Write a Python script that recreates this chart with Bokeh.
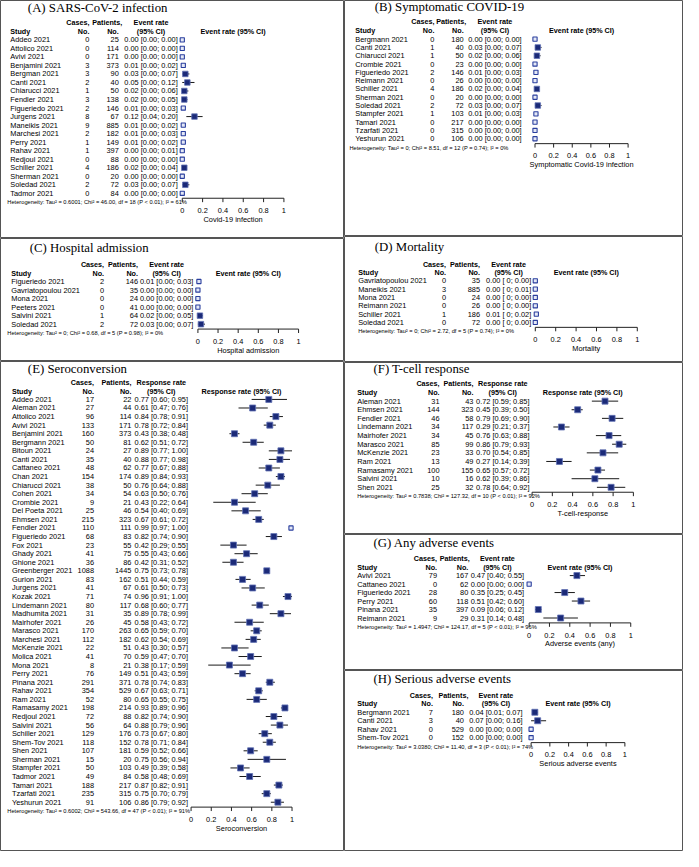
from bokeh.plotting import figure
from bokeh.models import Range1d
from bokeh.layouts import row, column
from bokeh.embed import file_html
from bokeh.resources import INLINE
from bokeh.core.properties import value

# ---------------- data ----------------
A_study = ["Addeo 2021", "Attolico 2021", "Avivi 2021", "Benjamini 2021", "Bergman 2021", "Canti 2021",
           "Chiarucci 2021", "Fendler 2021", "Figueriedo 2021", "Jurgens 2021", "Maneikis 2021",
           "Marchesi 2021", "Perry 2021", "Rahav 2021", "Redjoul 2021", "Schiller 2021",
           "Sherman 2021", "Soledad 2021", "Tadmor 2021"]
A_cases = [0, 0, 0, 3, 3, 2, 1, 3, 2, 8, 9, 2, 1, 1, 0, 4, 0, 2, 0]
A_patients = [25, 114, 171, 373, 90, 40, 50, 138, 146, 67, 885, 182, 149, 397, 88, 186, 20, 72, 84]
A_rate = [0.00, 0.00, 0.00, 0.01, 0.03, 0.05, 0.02, 0.02, 0.01, 0.12, 0.01, 0.01, 0.01, 0.00, 0.00, 0.02, 0.00, 0.03, 0.00]
A_lo = [0.00, 0.00, 0.00, 0.00, 0.00, 0.00, 0.00, 0.00, 0.00, 0.04, 0.00, 0.00, 0.00, 0.00, 0.00, 0.00, 0.00, 0.00, 0.00]
A_hi = [0.00, 0.00, 0.00, 0.02, 0.07, 0.12, 0.06, 0.05, 0.03, 0.20, 0.02, 0.03, 0.02, 0.01, 0.00, 0.04, 0.00, 0.07, 0.00]
A_het = "Heterogeneity: Tau\u00b2 = 0.6001; Chi\u00b2 = 46.00, df = 18 (P < 0.01); I\u00b2 = 61%"

B_study = ["Bergmann 2021", "Canti 2021", "Chiarucci 2021", "Crombie 2021", "Figueriedo 2021", "Reimann 2021",
           "Schiller 2021", "Sherman 2021", "Soledad 2021", "Stampfer 2021", "Tamari 2021", "Tzarfati 2021",
           "Yeshurun 2021"]
B_cases = [0, 1, 1, 0, 2, 0, 4, 0, 2, 1, 0, 0, 0]
B_patients = [180, 40, 50, 23, 146, 26, 186, 20, 72, 103, 217, 315, 106]
B_rate = [0.00, 0.03, 0.02, 0.00, 0.01, 0.00, 0.02, 0.00, 0.03, 0.01, 0.00, 0.00, 0.00]
B_lo = [0.00] * 13
B_hi = [0.00, 0.07, 0.06, 0.00, 0.03, 0.00, 0.04, 0.00, 0.07, 0.03, 0.00, 0.00, 0.00]
B_het = "Heterogeneity: Tau\u00b2 = 0; Chi\u00b2 = 8.51, df = 12 (P = 0.74); I\u00b2 = 0%"

C_study = ["Figueriedo 2021", "Gavriatopoulou 2021", "Mona 2021", "Peeters 2021", "Salvini 2021", "Soledad 2021"]
C_cases = [2, 0, 0, 0, 1, 2]
C_patients = [146, 35, 24, 41, 64, 72]
C_rate = [0.01, 0.00, 0.00, 0.00, 0.02, 0.03]
C_lo = [0.00, 0.00, 0.00, 0.00, 0.00, 0.00]
C_hi = [0.03, 0.00, 0.00, 0.00, 0.05, 0.07]
C_het = "Heterogeneity: Tau\u00b2 = 0; Chi\u00b2 = 0.68, df = 5 (P = 0.98); I\u00b2 = 0%"

D_study = ["Gavriatopoulou 2021", "Maneikis 2021", "Mona 2021", "Reimann 2021", "Schiller 2021", "Soledad 2021"]
D_cases = [0, 3, 0, 0, 1, 0]
D_patients = [35, 885, 24, 26, 186, 72]
D_rate = [0.00, 0.00, 0.00, 0.00, 0.01, 0.00]
D_lo = [0, 0, 0, 0, 0, 0]
D_hi = [0.00, 0.01, 0.00, 0.00, 0.02, 0.00]
D_het = "Heterogeneity: Tau\u00b2 = 0; Chi\u00b2 = 2.72, df = 5 (P = 0.74); I\u00b2 = 0%"

E_study = ["Addeo 2021", "Aleman 2021", "Attolico 2021", "Avivi 2021", "Benjamini 2021", "Bergmann 2021",
           "Bitoun 2021", "Canti 2021", "Cattaneo 2021", "Chan 2021", "Chiarucci 2021", "Cohen 2021",
           "Crombie 2021", "Del Poeta 2021", "Ehmsen 2021", "Fendler 2021", "Figueriedo 2021", "Fox 2021",
           "Ghady 2021", "Ghione 2021", "Greenberger 2021", "Gurion 2021", "Jurgens 2021", "Kozak 2021",
           "Lindemann 2021", "Madhumita 2021", "Mairhofer 2021", "Marasco 2021", "Marchesi 2021",
           "McKenzie 2021", "Molica 2021", "Mona 2021", "Perry 2021", "Pinana 2021", "Rahav 2021",
           "Ram 2021", "Ramasamy 2021", "Redjoul 2021", "Salvini 2021", "Schiller 2021", "Shem-Tov 2021",
           "Shen 2021", "Sherman 2021", "Stampfer 2021", "Tadmor 2021", "Tamari 2021", "Tzarfati 2021",
           "Yeshurun 2021"]
E_cases = [17, 27, 96, 133, 160, 50, 24, 35, 48, 154, 38, 34, 9, 25, 215, 110, 68, 23, 41, 36, 1088, 83,
           41, 71, 80, 31, 26, 170, 112, 22, 41, 8, 76, 291, 354, 52, 198, 72, 56, 129, 118, 107, 15, 50,
           49, 188, 235, 91]
E_patients = [22, 44, 114, 171, 373, 81, 27, 40, 62, 174, 50, 54, 21, 46, 323, 111, 83, 55, 75, 86, 1445,
              162, 67, 74, 117, 35, 45, 263, 182, 51, 70, 21, 149, 371, 529, 80, 214, 88, 64, 176, 152,
              181, 20, 103, 84, 217, 315, 106]
E_rate = [0.77, 0.61, 0.84, 0.78, 0.43, 0.62, 0.89, 0.88, 0.77, 0.89, 0.76, 0.63, 0.43, 0.54, 0.67, 0.99,
          0.82, 0.42, 0.55, 0.42, 0.75, 0.51, 0.61, 0.96, 0.68, 0.89, 0.58, 0.65, 0.62, 0.43, 0.59, 0.38,
          0.51, 0.78, 0.67, 0.65, 0.93, 0.82, 0.88, 0.73, 0.78, 0.59, 0.75, 0.49, 0.58, 0.87, 0.75, 0.86]
E_lo = [0.60, 0.47, 0.78, 0.72, 0.38, 0.51, 0.77, 0.77, 0.67, 0.84, 0.64, 0.50, 0.22, 0.40, 0.61, 0.97,
        0.74, 0.29, 0.43, 0.31, 0.73, 0.44, 0.50, 0.91, 0.60, 0.78, 0.43, 0.59, 0.54, 0.30, 0.47, 0.17,
        0.43, 0.74, 0.63, 0.55, 0.89, 0.74, 0.79, 0.67, 0.71, 0.52, 0.56, 0.39, 0.48, 0.82, 0.70, 0.79]
E_hi = [0.95, 0.76, 0.91, 0.84, 0.48, 0.72, 1.00, 0.98, 0.88, 0.93, 0.88, 0.76, 0.64, 0.69, 0.72, 1.00,
        0.90, 0.55, 0.66, 0.52, 0.78, 0.59, 0.73, 1.00, 0.77, 0.99, 0.72, 0.70, 0.69, 0.57, 0.70, 0.59,
        0.59, 0.83, 0.71, 0.75, 0.96, 0.90, 0.96, 0.80, 0.84, 0.66, 0.94, 0.58, 0.69, 0.91, 0.79, 0.92]
E_het = "Heterogeneity: Tau\u00b2 = 0.6002; Chi\u00b2 = 543.66, df = 47 (P < 0.01); I\u00b2 = 91%"

F_study = ["Aleman 2021", "Ehmsen 2021", "Fendler 2021", "Lindemann 2021", "Mairhofer 2021", "Marasco 2021",
           "McKenzie 2021", "Ram 2021", "Ramasamy 2021", "Salvini 2021", "Shen 2021"]
F_cases = [31, 144, 46, 34, 34, 85, 23, 13, 100, 10, 25]
F_patients = [43, 323, 58, 117, 45, 99, 33, 49, 155, 16, 32]
F_rate = [0.72, 0.45, 0.79, 0.29, 0.76, 0.86, 0.70, 0.27, 0.65, 0.62, 0.78]
F_lo = [0.59, 0.39, 0.69, 0.21, 0.63, 0.79, 0.54, 0.14, 0.57, 0.39, 0.64]
F_hi = [0.85, 0.50, 0.90, 0.37, 0.88, 0.93, 0.85, 0.39, 0.72, 0.86, 0.92]
F_het = "Heterogeneity: Tau\u00b2 = 0.7838; Chi\u00b2 = 127.32, df = 10 (P < 0.01); I\u00b2 = 92%"

G_study = ["Avivi 2021", "Cattaneo 2021", "Figueriedo 2021", "Perry 2021", "Pinana 2021", "Reimann 2021"]
G_cases = [79, 0, 28, 60, 35, 9]
G_patients = [167, 62, 80, 118, 397, 29]
G_rate = [0.47, 0.00, 0.35, 0.51, 0.09, 0.31]
G_lo = [0.40, 0.00, 0.25, 0.42, 0.06, 0.14]
G_hi = [0.55, 0.00, 0.45, 0.60, 0.12, 0.48]
G_het = "Heterogeneity: Tau\u00b2 = 1.4947; Chi\u00b2 = 124.17, df = 5 (P < 0.01); I\u00b2 = 96%"

H_study = ["Bergmann 2021", "Canti 2021", "Rahav 2021", "Shem-Tov 2021"]
H_cases = [7, 3, 0, 0]
H_patients = [180, 40, 529, 152]
H_rate = [0.04, 0.07, 0.00, 0.00]
H_lo = [0.01, 0.00, 0.00, 0.00]
H_hi = [0.07, 0.16, 0.00, 0.00]
H_het = "Heterogeneity: Tau\u00b2 = 3.0380; Chi\u00b2 = 11.40, df = 3 (P < 0.01); I\u00b2 = 74%"

TICKS = [0, 0.2, 0.4, 0.6, 0.8, 1.0]
TICK_LABELS = ["0", "0.2", "0.4", "0.6", "0.8", "1"]

# ---------------- drawing ----------------
SX = 683 / 699
SY = 851 / 867
SANS = "Liberation Sans"
SERIF = "Liberation Serif"
F_BODY = "7.4px"
F_HEAD = "7.2px"
F_HET = "5.7px"
F_TITLE = "12.8px"
SQ_FILL = "#1b2a78"
SQ_LINE = "#6272b4"


def fmt_ci(r, lo, hi, zero_int):
    los = " 0" if (zero_int and lo == 0) else f"{lo:.2f}"
    return f"{r:.2f} [{los}; {hi:.2f}]"


def txt(p, xs, ys, texts, align, size=F_BODY, bold=False, font=SANS):
    p.text(x=xs, y=ys, text=texts, text_align=align, text_baseline="middle",
           text_font=value(font), text_font_size=value(size),
           text_font_style="bold" if bold else "normal", text_color="black")


def panel(L, study, cases, patients, rate, lo, hi, het, title, metric, axis_label, fw, fh):
    l, t, r, b = L["box"]
    x0, s = L["x0"], L["s"]
    row0, rh = L["row0"], L["rh"]

    def X(px):
        return (px - x0) / s

    def Y(py):
        return (py - row0) / rh

    p = figure(width=fw, height=fh, x_range=Range1d(X(l), X(r)), y_range=Range1d(Y(b), Y(t)),
               output_backend="svg", toolbar_location=None, min_border=0,
               x_axis_location=None, y_axis_location=None)
    p.grid.visible = False
    p.outline_line_color = "#555555"
    p.outline_line_width = 1
    p.background_fill_color = "white"
    p.border_fill_color = "white"

    n = len(study)
    ys = list(range(n))
    last = n - 1

    # title
    txt(p, [X(L["title_x"])], [Y(L["title_y"])], [title], "left", F_TITLE, font=SERIF)

    # headers
    h1, h2 = Y(L["hdr1"]), Y(L["hdr2"])
    txt(p, [X(L["study_x"])], [h2], ["Study"], "left", F_HEAD, bold=True)
    txt(p, [X(L["cases_r"]), X(L["cases_r"])], [h1, h2], ["Cases,", "No."], "right", F_HEAD, bold=True)
    txt(p, [X(L["pat_r"] + L.get("pat_h", 0)), X(L["pat_r"])], [h1, h2], ["Patients,", "No."], "right",
        F_HEAD, bold=True)
    txt(p, [X(L["rate_c"]), X(L["rate_c"])], [h1, h2], [metric, "(95% CI)"], "center", F_HEAD, bold=True)
    txt(p, [0.5], [h2], [metric + " (95% CI)"], "center", F_HEAD, bold=True)

    # rows
    txt(p, [X(L["study_x"])] * n, ys, study, "left")
    txt(p, [X(L["cases_r"])] * n, ys, [str(c) for c in cases], "right")
    txt(p, [X(L["pat_r"])] * n, ys, [str(c) for c in patients], "right")
    txt(p, [X(L["rate_c"])] * n, ys,
        [fmt_ci(a, b_, c, L.get("zero_int", False)) for a, b_, c in zip(rate, lo, hi)], "center")

    # CI lines and squares
    p.segment(x0=lo, y0=ys, x1=hi, y1=ys, line_color="#1a1a1a", line_width=1)
    ci_px = [(h - lw) * s * SX for lw, h in zip(lo, hi)]
    hollow = [w < 3.5 for w in ci_px]
    p.scatter(x=rate, y=ys, marker="square", size=[4.2 if hw else L["sq"] for hw in hollow],
              fill_color=["#e4e8f6" if hw else SQ_FILL for hw in hollow],
              line_color=["#2a3f9e" if hw else SQ_LINE for hw in hollow],
              line_width=[1.1 if hw else 0.8 for hw in hollow])

    # heterogeneity
    txt(p, [X(L["het_x"])], [last + 9 / rh], [het], "left", F_HET)

    # axis
    ya = last + 5 / rh
    p.segment(x0=[TICKS[0]], y0=[ya], x1=[TICKS[-1]], y1=[ya], line_color="#222222", line_width=1)
    p.segment(x0=TICKS, y0=[ya] * len(TICKS), x1=TICKS, y1=[ya + 4 / rh] * len(TICKS),
              line_color="#222222", line_width=1)
    txt(p, TICKS, [last + 17.5 / rh] * len(TICKS), TICK_LABELS, "center")
    txt(p, [0.5], [last + 26.5 / rh], [axis_label], "center")
    return p


LA = dict(box=(0, 0, 352, 242), title_x=28, title_y=8, hdr1=22.7, hdr2=31.7, row0=40, rh=8.67,
          study_x=10, cases_r=91, pat_r=121, pat_h=3.5, rate_c=154, x0=186, s=104, het_x=7, sq=5.5)
LB = dict(box=(352, 0, 699, 240), title_x=383, title_y=7, hdr1=21, hdr2=30, row0=39.3, rh=8.44,
          study_x=363, cases_r=444, pat_r=474, pat_h=2.5, rate_c=506, x0=547, s=95.3, het_x=357, sq=5.5)
LC = dict(box=(0, 242, 352, 367), title_x=30, title_y=251.5, hdr1=268.3, hdr2=277.3, row0=285.7, rh=8.67,
          study_x=11, cases_r=106, pat_r=140.7, rate_c=170, x0=202, s=103, het_x=7, sq=5.5)
LD = dict(box=(352, 240, 699, 368), title_x=383, title_y=251, hdr1=268, hdr2=276.7, row0=285, rh=8.46,
          study_x=366, cases_r=456, pat_r=490.7, rate_c=520, x0=547.3, s=104.4, het_x=366, sq=5.5,
          zero_int=True)
LE = dict(box=(0, 367, 352, 867), title_x=28, title_y=374.3, hdr1=388.3, hdr2=397.3, row0=405.7, rh=8.745,
          study_x=11.7, cases_r=95.7, pat_r=134, rate_c=164.5, x0=195, s=103.3, het_x=7, sq=6)
LF = dict(box=(352, 368, 699, 543), title_x=381.7, title_y=374.3, hdr1=389.3, hdr2=398.3, row0=407.3,
          rh=8.77, study_x=365, cases_r=449.3, pat_r=484, rate_c=514, x0=544, s=103.7, het_x=365, sq=6)
LG = dict(box=(352, 543, 699, 682), title_x=381.7, title_y=551.7, hdr1=567.7, hdr2=576.7, row0=585,
          rh=8.67, study_x=365, cases_r=446.7, pat_r=478.7, pat_h=1.5, rate_c=508.5, x0=541, s=104,
          het_x=365, sq=6)
LH = dict(box=(352, 682, 699, 867), title_x=381.7, title_y=691, hdr1=707.3, hdr2=716, row0=724.7,
          rh=8.67, study_x=365, cases_r=442.5, pat_r=474.3, pat_h=4.5, rate_c=507, x0=543, s=96,
          het_x=365, sq=6)

pA = panel(LA, A_study, A_cases, A_patients, A_rate, A_lo, A_hi, A_het,
           "(A) SARS-CoV-2 infection", "Event rate", "Covid-19 infection", 344, 238)
pC = panel(LC, C_study, C_cases, C_patients, C_rate, C_lo, C_hi, C_het,
           "(C) Hospital admission", "Event rate", "Hospital admission", 344, 123)
pE = panel(LE, E_study, E_cases, E_patients, E_rate, E_lo, E_hi, E_het,
           "(E) Seroconversion", "Response rate", "Seroconversion", 344, 490)
pB = panel(LB, B_study, B_cases, B_patients, B_rate, B_lo, B_hi, B_het,
           "(B) Symptomatic COVID-19", "Event rate", "Symptomatic Covid-19 infection", 339, 236)
pD = panel(LD, D_study, D_cases, D_patients, D_rate, D_lo, D_hi, D_het,
           "(D) Mortality", "Event rate", "Mortality", 339, 126)
pF = panel(LF, F_study, F_cases, F_patients, F_rate, F_lo, F_hi, F_het,
           "(F) T-cell response", "Response rate", "T-cell-response", 339, 172)
pG = panel(LG, G_study, G_cases, G_patients, G_rate, G_lo, G_hi, G_het,
           "(G) Any adverse events", "Event rate", "Adverse events (any)", 339, 136)
pH = panel(LH, H_study, H_cases, H_patients, H_rate, H_lo, H_hi, H_het,
           "(H) Serious adverse events", "Event rate", "Serious adverse events", 339, 181)

layout = row(column(pA, pC, pE, spacing=0), column(pB, pD, pF, pG, pH, spacing=0), spacing=0)

open("out.html", "w").write(file_html(layout, INLINE, title="Forest plots"))
